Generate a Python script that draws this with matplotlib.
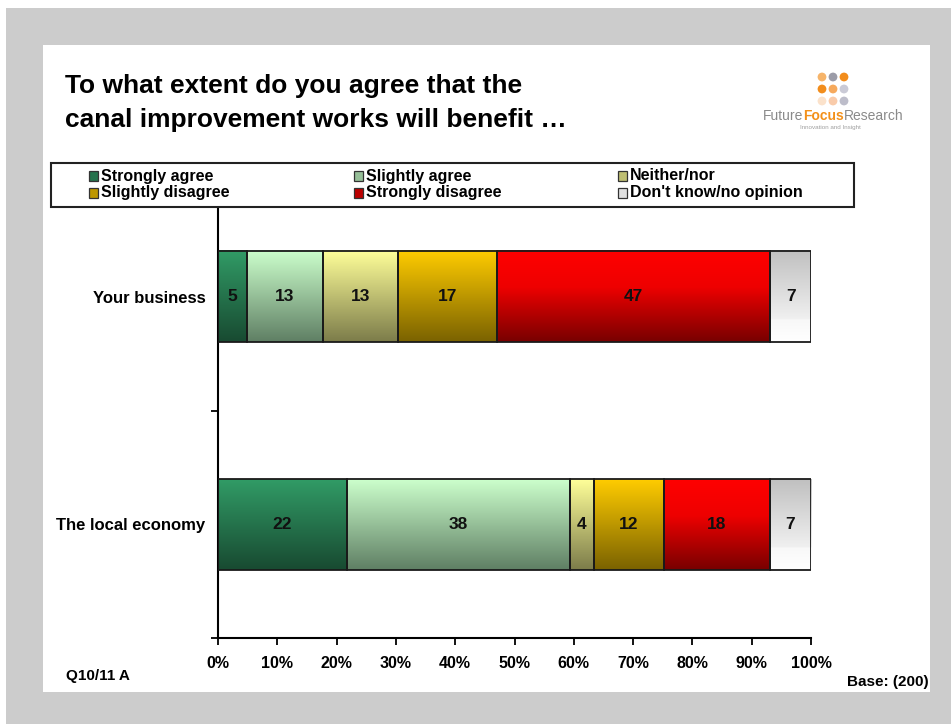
import matplotlib.pyplot as plt
import numpy as np
from matplotlib.colors import LinearSegmentedColormap, to_rgb
from matplotlib.patches import Rectangle

plt.rcParams['font.family'] = ['Liberation Sans', 'DejaVu Sans']

categories = ["The local economy", "Your business"]
series = ["Strongly agree", "Slightly agree", "Neither/nor",
          "Slightly disagree", "Strongly disagree", "Don't know/no opinion"]
# answers per category, in the same order as series
local_economy = [22, 38, 4, 12, 18, 7]
your_business = [5, 13, 13, 17, 47, 7]
tick_labels = ["0%", "10%", "20%", "30%", "40%", "50%",
               "60%", "70%", "80%", "90%", "100%"]

# bar gradients, listed bottom -> top
shades = [
    [(0, "#184a31"), (1, "#319b66")],
    [(0, "#5f7f64"), (1, "#ccffcc")],
    [(0, "#7c7c4a"), (1, "#ffff99")],
    [(0, "#7a6200"), (1, "#ffcc00")],
    [(0, "#780000"), (0.6, "#ee0000"), (1, "#ff0000")],
    [(0, "#ffffff"), (0.24, "#f8f8f8"), (0.25, "#f0f0f0"), (1, "#c0c0c0")],
]

W, H = 951, 724


def fx(x):
    return x / W


def fy(y):
    return 1 - y / H


fig = plt.figure(figsize=(W / 100, H / 100), dpi=100)
fig.add_artist(Rectangle((fx(6), 0), 1 - fx(6), fy(8), transform=fig.transFigure,
                         facecolor="#cccccc", edgecolor="none", zorder=-3))
fig.add_artist(Rectangle((fx(43), fy(692)), fx(930) - fx(43), fy(45) - fy(692),
                         transform=fig.transFigure, facecolor="white",
                         edgecolor="none", zorder=-2))

ax = fig.add_axes([fx(218), fy(638), fx(811) - fx(218), fy(183) - fy(638)])
ax.patch.set_visible(False)

ypos = np.arange(len(categories))
data = np.array([local_economy, your_business])
shares = data / data.sum(axis=1, keepdims=True)
grad = np.linspace(0, 1, 128).reshape(-1, 1)

left = np.zeros(len(categories))
for i, name in enumerate(series):
    bars = ax.barh(ypos, shares[:, i], left=left, height=0.4, facecolor="none",
                   edgecolor="#1a1a1a", linewidth=1.3, zorder=3)
    cmap = LinearSegmentedColormap.from_list(name, shades[i])
    for j, bar in enumerate(bars):
        x0, y0 = bar.get_x(), bar.get_y()
        w, h = bar.get_width(), bar.get_height()
        ax.imshow(grad, cmap=cmap, origin="lower", aspect="auto",
                  extent=(x0, x0 + w, y0, y0 + h), zorder=2, interpolation="bilinear")
        ax.text(x0 + w / 2, ypos[j], str(data[j, i]), ha="center", va="center",
                fontsize=12.5, fontweight="bold", color="#111111", zorder=4)
    left += shares[:, i]

ax.set_xlim(0, 1)
ax.set_ylim(-0.5, 1.5)
ax.set_xticks(np.linspace(0, 1, 11))
ax.set_xticklabels(tick_labels, fontsize=11.5, fontweight="bold")
ax.set_yticks(ypos)
ax.set_yticklabels(categories, fontsize=12, fontweight="bold")
ax.set_yticks([-0.5, 0.5, 1.5], minor=True)
ax.tick_params(axis="y", which="major", length=0, pad=9)
ax.tick_params(axis="y", which="minor", length=5, width=1.3, direction="out")
ax.tick_params(axis="x", length=5, width=1.3, direction="out", pad=8)
for side in ["top", "right"]:
    ax.spines[side].set_visible(False)
for side in ["left", "bottom"]:
    ax.spines[side].set_linewidth(1.5)

# legend box, filled row by row
fig.add_artist(Rectangle((fx(51), fy(207)), fx(854) - fx(51), fy(163) - fy(207),
                         transform=fig.transFigure, facecolor="white",
                         edgecolor="#222222", linewidth=1.5, zorder=5))
col_x = [89, 354, 618]
row_y = [176, 193]
for i, name in enumerate(series):
    cx = col_x[i % 3]
    cy = row_y[i // 3]
    c_bot = np.array(to_rgb(shades[i][0][1]))
    c_top = np.array(to_rgb(shades[i][-1][1]))
    fig.add_artist(Rectangle((fx(cx), fy(cy + 4.5)), 9 / W, 9 / H,
                             transform=fig.transFigure, facecolor=(c_bot + c_top) / 2,
                             edgecolor="#333333", linewidth=0.9, zorder=6))
    fig.text(fx(cx + 12), fy(cy), name, fontsize=11.5, fontweight="bold",
             va="center", ha="left", zorder=7)

fig.text(fx(65), fy(93), "To what extent do you agree that the",
         fontsize=19, fontweight="bold", va="baseline")
fig.text(fx(65), fy(127), "canal improvement works will benefit \u2026",
         fontsize=19, fontweight="bold", va="baseline")

fig.text(fx(66), fy(680), "Q10/11 A", fontsize=11, fontweight="bold", va="baseline")
fig.text(fx(929), fy(686), "Base: (200)", fontsize=11, fontweight="bold",
         va="baseline", ha="right")

# company logo
lax = fig.add_axes([fx(755), fy(140), fx(910) - fx(755), fy(65) - fy(140)])
lax.set_xlim(755, 910)
lax.set_ylim(140, 65)
lax.axis("off")
dot_x = [822, 833, 844]
dot_y = [77, 89, 101]
dot_colors = [["#f6b46a", "#9c9ca8", "#f28d1c"],
              ["#f28d1c", "#f6a95c", "#cacad6"],
              ["#fbe2cb", "#f9cbaa", "#bdbdca"]]
for r, yy in enumerate(dot_y):
    for c, xx in enumerate(dot_x):
        lax.scatter(xx, yy, s=40, color=dot_colors[r][c], edgecolor="none")
t1 = lax.text(763, 120, "Future", color="#8a8a8a", fontsize=10, va="baseline")
t2 = lax.annotate("Focus", xy=(1, 0), xycoords=t1, color="#f39019",
                  fontsize=10, fontweight="bold", va="bottom", ha="left")
lax.annotate("Research", xy=(1, 0), xycoords=t2, color="#8a8a8a",
             fontsize=10, va="bottom", ha="left")
lax.text(830, 128, "Innovation and Insight", color="#a0a0a0", fontsize=4.5,
         ha="center", va="center")

fig.savefig("out.png", dpi=100)
